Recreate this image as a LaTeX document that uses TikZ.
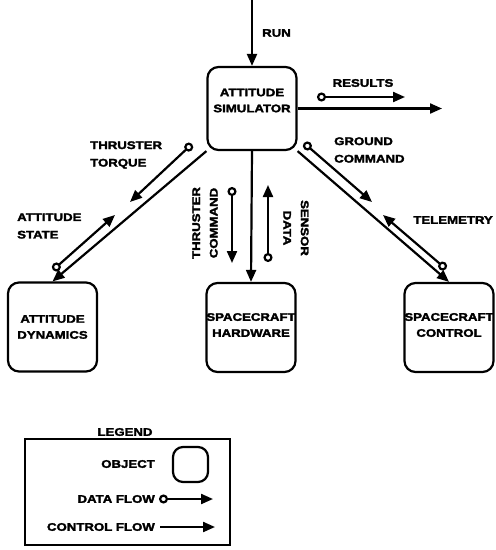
\documentclass[tikz,border=0pt]{standalone}
\usepackage{fontspec}
\newfontfamily\flowfont{Liberation Sans}[FakeStretch=1.2, BoldFeatures={FakeBold=2.5}]
\usetikzlibrary{arrows.meta}

\tikzset{
    objbox/.style={draw, line width=2.2pt, rounded corners=11pt, minimum width=89pt, minimum height=89pt, inner sep=0pt},
    boxtxt/.style={font=\flowfont\bfseries\fontsize{11}{16}\selectfont, align=center, inner sep=0pt},
    flowtxt/.style={font=\flowfont\bfseries\fontsize{11}{17.5}\selectfont, inner sep=0pt},
    ctrl/.style={line width=2.2pt, -{Triangle[length=12pt, width=10pt]}},
    dflow/.style={line width=2.2pt, {Circle[open, length=9pt, width=9pt]}-{Triangle[length=12pt, width=10pt]}}
}

\begin{document}
\begin{tikzpicture}[x=1pt, y=-1pt]
    \useasboundingbox (0,0) rectangle (496,550);

    % 四个对象框
    \node[objbox, minimum height=83pt] (sim) at (252,108.5) {};
    \node[boxtxt] (simtxt) at (252,100.5) {ATTITUDE\\SIMULATOR};
    \node[objbox] (dyn) at (52.5,327) {};
    \node[boxtxt] (dyntxt) at (dyn.center) {ATTITUDE\\DYNAMICS};
    \node[objbox] (hw) at (251,327.5) {};
    \node[boxtxt] (hwtxt) at (251,325) {SPACECRAFT\\HARDWARE};
    \node[objbox] (ctl) at (449,327.5) {};
    \node[boxtxt] (ctltxt) at (449,325) {SPACECRAFT\\CONTROL};

    % 控制流（实线箭头）
    \coordinate (runin) at (252,0);
    \coordinate (resout) at (442,108.5);
    \draw[ctrl] (runin) -- (sim);
    \draw[ctrl] (sim.east) -- (resout);
    \draw[ctrl] (sim.south west) -- (dyn.north);
    \draw[ctrl] (sim.south) -- (hw.north);
    \draw[ctrl] (sim.south east) -- (ctl.north);
    \node[flowtxt, anchor=west] (run) at (262,33) {RUN};

    % 数据流（带圆圈的箭头）
    \coordinate (res0) at (317,97);       \coordinate (res1) at (405,97);
    \coordinate (torq0) at (192,144);     \coordinate (torq1) at (130,202);
    \coordinate (state0) at (53,270);     \coordinate (state1) at (115,215);
    \coordinate (tcmd0) at (232,187);     \coordinate (tcmd1) at (232,263);
    \coordinate (sens0) at (268,262);     \coordinate (sens1) at (268,185);
    \coordinate (gnd0) at (304,143);      \coordinate (gnd1) at (372,202);
    \coordinate (tlm0) at (446,269);      \coordinate (tlm1) at (383,215);
    \draw[dflow] (res0) -- (res1);
    \draw[dflow] (torq0) -- (torq1);
    \draw[dflow] (state0) -- (state1);
    \draw[dflow] (tcmd0) -- (tcmd1);
    \draw[dflow] (sens0) -- (sens1);
    \draw[dflow] (gnd0) -- (gnd1);
    \draw[dflow] (tlm0) -- (tlm1);

    % 数据流标签
    \node[flowtxt] (results) at (363,83) {RESULTS};
    \node[flowtxt, anchor=west, align=left] (torque) at (90,155) {THRUSTER\\TORQUE};
    \node[flowtxt, anchor=west, align=left] (state) at (17,226) {ATTITUDE\\STATE};
    \node[flowtxt, align=center, rotate=90] (thrcmd) at (205,223) {THRUSTER\\COMMAND};
    \node[flowtxt, align=center, rotate=-90] (sensor) at (296,228) {SENSOR\\DATA};
    \node[flowtxt, anchor=west, align=left] (ground) at (334,150) {GROUND\\COMMAND};
    \node[flowtxt, anchor=east] (telem) at (493,220) {TELEMETRY};

    % 图例
    \node[flowtxt] (legend) at (125,432) {LEGEND};
    \draw[line width=2.2pt] (25,439) rectangle (230,545);
    \node[objbox, minimum width=35pt, minimum height=35pt, rounded corners=10pt] (objkey) at (190.5,464.5) {};
    \node[flowtxt, anchor=east] (objtxt) at (155,464) {OBJECT};
    \node[flowtxt, anchor=east] (datatxt) at (155,499) {DATA FLOW};
    \node[flowtxt, anchor=east] (ctrltxt) at (155,527) {CONTROL FLOW};
    \coordinate (dkey0) at (159,499);     \coordinate (dkey1) at (213,499);
    \coordinate (ckey0) at (160,527);     \coordinate (ckey1) at (215,527);
    \draw[dflow] (dkey0) -- (dkey1);
    \draw[ctrl] (ckey0) -- (ckey1);
\end{tikzpicture}
\end{document}
